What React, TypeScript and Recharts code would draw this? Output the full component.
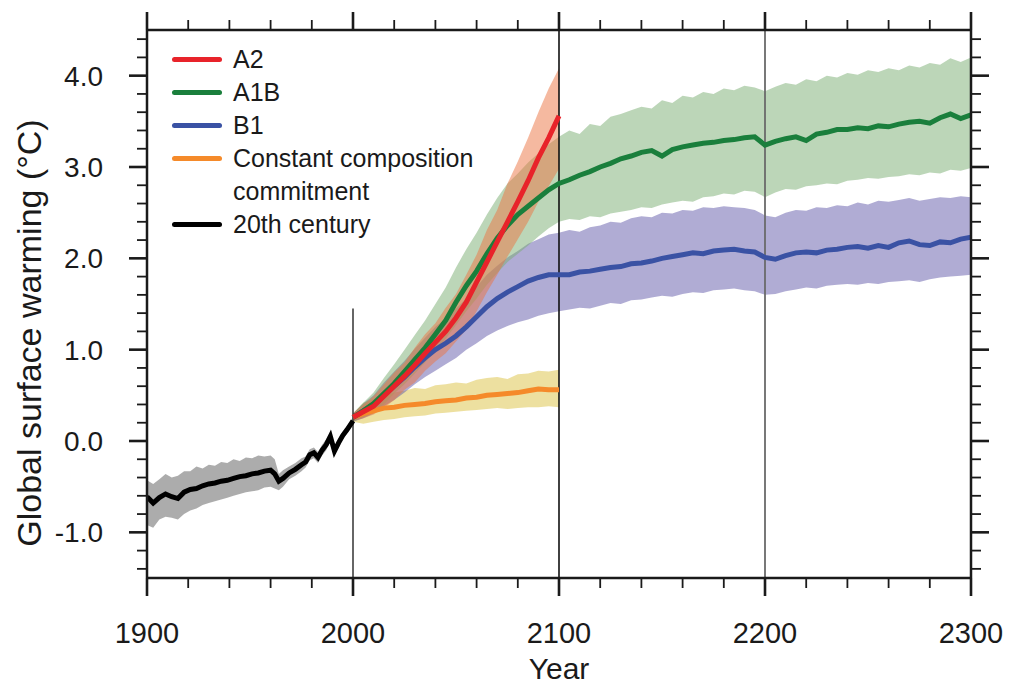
import React from 'react'
import { ComposedChart, Area, Line, XAxis, YAxis, ReferenceLine } from 'recharts'

// 20th century simulation (black line + grey band)
const histYears = [1900, 1903, 1906, 1909, 1912, 1915, 1918, 1921, 1924, 1927, 1930, 1933, 1936, 1939, 1942, 1945, 1948, 1951, 1954, 1957, 1960, 1962, 1964, 1966, 1969, 1972, 1975, 1977, 1979, 1981, 1983, 1985, 1987, 1989, 1991, 1993, 1995, 1997, 2000]
const histMean = [-0.61, -0.68, -0.62, -0.58, -0.61, -0.63, -0.56, -0.53, -0.52, -0.49, -0.47, -0.46, -0.44, -0.43, -0.41, -0.39, -0.38, -0.36, -0.35, -0.33, -0.32, -0.36, -0.44, -0.41, -0.35, -0.31, -0.26, -0.23, -0.15, -0.13, -0.18, -0.10, -0.04, 0.05, -0.11, -0.02, 0.06, 0.12, 0.22]
const histHigh = [-0.43, -0.47, -0.42, -0.36, -0.40, -0.38, -0.33, -0.33, -0.28, -0.30, -0.26, -0.27, -0.23, -0.24, -0.20, -0.22, -0.18, -0.19, -0.16, -0.17, -0.16, -0.20, -0.36, -0.32, -0.28, -0.24, -0.19, -0.17, -0.09, -0.07, -0.12, -0.04, 0.02, 0.10, -0.06, 0.03, 0.10, 0.16, 0.26]
const histLow = [-0.92, -0.95, -0.86, -0.83, -0.84, -0.86, -0.80, -0.76, -0.74, -0.70, -0.68, -0.66, -0.64, -0.62, -0.60, -0.58, -0.56, -0.55, -0.54, -0.51, -0.50, -0.52, -0.54, -0.50, -0.42, -0.38, -0.33, -0.29, -0.21, -0.19, -0.24, -0.16, -0.10, 0.00, -0.16, -0.07, 0.02, 0.08, 0.18]

// projections, every 5 years
const projYears = [2000, 2005, 2010, 2015, 2020, 2025, 2030, 2035, 2040, 2045, 2050, 2055, 2060, 2065, 2070, 2075, 2080, 2085, 2090, 2095, 2100,
  2105, 2110, 2115, 2120, 2125, 2130, 2135, 2140, 2145, 2150, 2155, 2160, 2165, 2170, 2175, 2180, 2185, 2190, 2195, 2200,
  2205, 2210, 2215, 2220, 2225, 2230, 2235, 2240, 2245, 2250, 2255, 2260, 2265, 2270, 2275, 2280, 2285, 2290, 2295, 2300]

// A2 and constant composition stop at 2100
const a2Mean = [0.26, 0.32, 0.38, 0.49, 0.60, 0.71, 0.83, 0.96, 1.08, 1.20, 1.35, 1.52, 1.74, 1.96, 2.18, 2.40, 2.62, 2.85, 3.10, 3.32, 3.56]
const a2High = [0.30, 0.40, 0.49, 0.62, 0.75, 0.86, 1.02, 1.17, 1.29, 1.46, 1.61, 1.82, 2.04, 2.31, 2.53, 2.82, 3.06, 3.32, 3.60, 3.86, 4.08]
const a2Low = [0.22, 0.25, 0.29, 0.36, 0.45, 0.56, 0.64, 0.77, 0.87, 0.96, 1.09, 1.22, 1.42, 1.63, 1.82, 2.02, 2.21, 2.40, 2.62, 2.79, 2.98]

const ccMean = [0.26, 0.30, 0.33, 0.36, 0.37, 0.39, 0.40, 0.41, 0.43, 0.44, 0.45, 0.47, 0.48, 0.50, 0.51, 0.52, 0.53, 0.55, 0.57, 0.56, 0.56]
const ccHigh = [0.30, 0.42, 0.46, 0.50, 0.53, 0.55, 0.58, 0.57, 0.61, 0.62, 0.64, 0.63, 0.67, 0.69, 0.70, 0.68, 0.73, 0.74, 0.77, 0.76, 0.78]
const ccLow = [0.21, 0.19, 0.21, 0.23, 0.24, 0.26, 0.27, 0.28, 0.30, 0.31, 0.32, 0.33, 0.34, 0.35, 0.36, 0.35, 0.36, 0.37, 0.37, 0.38, 0.37]

const a1bMean = [0.26, 0.33, 0.41, 0.52, 0.63, 0.76, 0.89, 1.02, 1.17, 1.32, 1.52, 1.70, 1.86, 2.05, 2.22, 2.36, 2.48, 2.57, 2.66, 2.75, 2.82,
  2.86, 2.91, 2.95, 3.00, 3.04, 3.09, 3.12, 3.16, 3.18, 3.12, 3.19, 3.22, 3.24, 3.26, 3.27, 3.29, 3.30, 3.32, 3.33, 3.24,
  3.28, 3.31, 3.33, 3.29, 3.36, 3.38, 3.41, 3.41, 3.43, 3.42, 3.45, 3.44, 3.47, 3.49, 3.50, 3.48, 3.54, 3.58, 3.53, 3.57]
const a1bHigh = [0.30, 0.42, 0.53, 0.69, 0.84, 1.00, 1.16, 1.32, 1.50, 1.68, 1.90, 2.10, 2.28, 2.48, 2.66, 2.82, 2.93, 3.05, 3.15, 3.25, 3.33,
  3.40, 3.36, 3.47, 3.45, 3.55, 3.58, 3.62, 3.66, 3.64, 3.73, 3.70, 3.78, 3.76, 3.82, 3.80, 3.86, 3.84, 3.89, 3.87, 3.83,
  3.88, 3.92, 3.90, 3.96, 3.94, 4.00, 3.98, 4.03, 4.01, 4.06, 4.04, 4.08, 4.06, 4.11, 4.09, 4.14, 4.12, 4.19, 4.15, 4.20]
const a1bLow = [0.21, 0.26, 0.31, 0.40, 0.52, 0.62, 0.74, 0.86, 0.98, 1.12, 1.27, 1.42, 1.56, 1.71, 1.84, 1.96, 2.05, 2.14, 2.24, 2.33, 2.40,
  2.43, 2.42, 2.46, 2.45, 2.49, 2.51, 2.53, 2.56, 2.55, 2.59, 2.61, 2.63, 2.62, 2.67, 2.68, 2.71, 2.70, 2.74, 2.73, 2.67,
  2.72, 2.76, 2.75, 2.79, 2.80, 2.82, 2.81, 2.85, 2.86, 2.88, 2.87, 2.89, 2.90, 2.92, 2.91, 2.94, 2.93, 2.97, 2.96, 2.99]

const b1Mean = [0.26, 0.33, 0.40, 0.50, 0.60, 0.70, 0.81, 0.91, 1.00, 1.07, 1.15, 1.25, 1.36, 1.47, 1.56, 1.63, 1.69, 1.75, 1.79, 1.82, 1.82,
  1.82, 1.85, 1.86, 1.88, 1.90, 1.91, 1.94, 1.95, 1.97, 2.00, 2.02, 2.04, 2.06, 2.05, 2.08, 2.09, 2.10, 2.08, 2.07, 2.01,
  1.99, 2.03, 2.06, 2.07, 2.06, 2.09, 2.10, 2.12, 2.13, 2.11, 2.14, 2.12, 2.17, 2.19, 2.15, 2.14, 2.18, 2.17, 2.21, 2.23]
const b1High = [0.30, 0.41, 0.50, 0.64, 0.76, 0.88, 1.01, 1.13, 1.25, 1.34, 1.45, 1.56, 1.69, 1.82, 1.92, 2.01, 2.08, 2.16, 2.21, 2.26, 2.28,
  2.31, 2.29, 2.34, 2.36, 2.40, 2.39, 2.44, 2.46, 2.45, 2.50, 2.49, 2.53, 2.52, 2.56, 2.55, 2.57, 2.56, 2.55, 2.53, 2.47,
  2.45, 2.50, 2.53, 2.52, 2.56, 2.55, 2.58, 2.57, 2.61, 2.59, 2.63, 2.62, 2.64, 2.66, 2.63, 2.65, 2.67, 2.66, 2.68, 2.67]
const b1Low = [0.21, 0.25, 0.30, 0.38, 0.45, 0.53, 0.62, 0.70, 0.77, 0.84, 0.91, 1.00, 1.07, 1.15, 1.21, 1.26, 1.30, 1.33, 1.37, 1.40, 1.42,
  1.44, 1.46, 1.45, 1.48, 1.51, 1.50, 1.54, 1.55, 1.57, 1.59, 1.58, 1.61, 1.63, 1.62, 1.65, 1.66, 1.67, 1.65, 1.64, 1.60,
  1.61, 1.64, 1.66, 1.68, 1.67, 1.70, 1.71, 1.72, 1.71, 1.73, 1.72, 1.74, 1.75, 1.76, 1.74, 1.77, 1.79, 1.80, 1.81, 1.82]

// axis ticks
const xTicks = [1900, 1920, 1940, 1960, 1980, 2000, 2020, 2040, 2060, 2080, 2100, 2120, 2140, 2160, 2180, 2200, 2220, 2240, 2260, 2280, 2300]
const yTicks = [-1.4, -1.2, -1.0, -0.8, -0.6, -0.4, -0.2, 0, 0.2, 0.4, 0.6, 0.8, 1.0, 1.2, 1.4, 1.6, 1.8, 2.0, 2.2, 2.4, 2.6, 2.8, 3.0, 3.2, 3.4, 3.6, 3.8, 4.0, 4.2, 4.4]

const legendLabels = ['A2', 'A1B', 'B1', 'Constant composition\ncommitment', '20th century']
const legendColors = ['#e8232a', '#1a7f3c', '#3a52a4', '#f58a2a', '#000000']

const FONT = '"Liberation Sans", Arial, Helvetica, sans-serif'
const INK = '#1a1a1a'

function buildRows() {
  const byYear = new Map<number, any>()
  const row = (yr: number) => {
    if (!byYear.has(yr)) byYear.set(yr, { year: yr })
    return byYear.get(yr)
  }
  histYears.forEach((yr, i) => {
    Object.assign(row(yr), { hist: histMean[i], histLo: histLow[i], histHi: histHigh[i] })
  })
  projYears.forEach((yr, i) => {
    const r = row(yr)
    Object.assign(r, {
      a1b: a1bMean[i], a1bLo: a1bLow[i], a1bHi: a1bHigh[i],
      b1: b1Mean[i], b1Lo: b1Low[i], b1Hi: b1High[i],
    })
    if (i < a2Mean.length) {
      Object.assign(r, {
        a2: a2Mean[i], a2Lo: a2Low[i], a2Hi: a2High[i],
        cc: ccMean[i], ccLo: ccLow[i], ccHi: ccHigh[i],
      })
    }
  })
  return [...byYear.values()].sort((a, b) => a.year - b.year)
}

const rows = buildRows()

const band = (key: string) => (d: any) => (d[key + 'Lo'] == null ? null : [d[key + 'Lo'], d[key + 'Hi']])

const isMajorX = (v: number) => v % 100 === 0
const isMajorY = (v: number) => Math.abs(v - Math.round(v)) < 1e-6

function BottomTick({ x, y, payload }: any) {
  const major = isMajorX(payload.value)
  return (
    <g>
      <line x1={x} y1={y} x2={x} y2={y + (major ? 18 : 10)} stroke={INK} strokeWidth={major ? 2.6 : 1.8} />
      {major && (
        <text x={x} y={y + 65} textAnchor="middle" fontSize={29} fill={INK} fontFamily={FONT}>
          {payload.value}
        </text>
      )}
    </g>
  )
}

function TopTick({ x, y, payload }: any) {
  const major = isMajorX(payload.value)
  return <line x1={x} y1={y} x2={x} y2={y - (major ? 18 : 10)} stroke={INK} strokeWidth={major ? 2.6 : 1.8} />
}

function LeftTick({ x, y, payload }: any) {
  const major = isMajorY(payload.value)
  return (
    <g>
      <line x1={x} y1={y} x2={x - (major ? 18 : 10)} y2={y} stroke={INK} strokeWidth={major ? 2.6 : 1.8} />
      {major && (
        <text x={x - 44} y={y + 10} textAnchor="end" fontSize={28} fill={INK} fontFamily={FONT}>
          {payload.value.toFixed(1)}
        </text>
      )}
    </g>
  )
}

function RightTick({ x, y, payload }: any) {
  const major = isMajorY(payload.value)
  return <line x1={x} y1={y} x2={x + (major ? 18 : 10)} y2={y} stroke={INK} strokeWidth={major ? 2.6 : 1.8} />
}

export default function App() {
  const axisLine = { stroke: INK, strokeWidth: 2.5 }
  return (
    <div style={{ position: 'absolute', left: 0, top: 0, width: 1010, height: 685, background: '#fff' }}>
      <ComposedChart width={1010} height={685} data={rows} margin={{ top: 29, right: 38, bottom: 106, left: 146 }}>
        <XAxis
          dataKey="year" type="number" domain={[1900, 2300]} allowDataOverflow
          ticks={xTicks} interval={0} height={1} tickSize={0} tickMargin={0} tickLine={false}
          axisLine={axisLine} tick={<BottomTick />}
          label={{ value: 'Year', position: 'bottom', offset: 79, fontSize: 30, fill: INK, fontFamily: FONT }}
        />
        <XAxis
          xAxisId="top" orientation="top" dataKey="year" type="number" domain={[1900, 2300]} allowDataOverflow
          ticks={xTicks} interval={0} height={1} tickSize={0} tickMargin={0} tickLine={false}
          axisLine={axisLine} tick={<TopTick />}
        />
        <YAxis
          type="number" domain={[-1.5, 4.5]} allowDataOverflow ticks={yTicks} interval={0}
          width={1} tickSize={0} tickMargin={0} tickLine={false} axisLine={axisLine} tick={<LeftTick />}
        />
        <YAxis
          yAxisId="right" orientation="right" type="number" domain={[-1.5, 4.5]} allowDataOverflow
          ticks={yTicks} interval={0} width={1} tickSize={0} tickMargin={0} tickLine={false}
          axisLine={axisLine} tick={<RightTick />}
        />

        <Area type="linear" dataKey={band('hist')} stroke="none" fill="#5a5a5a" fillOpacity={0.5} isAnimationActive={false} activeDot={false} />
        <Area type="linear" dataKey={band('cc')} stroke="none" fill="#dbc141" fillOpacity={0.5} isAnimationActive={false} activeDot={false} />
        <Area type="linear" dataKey={band('b1')} stroke="none" fill="#6159a9" fillOpacity={0.5} isAnimationActive={false} activeDot={false} />
        <Area type="linear" dataKey={band('a1b')} stroke="none" fill="#79ad71" fillOpacity={0.5} isAnimationActive={false} activeDot={false} />
        <Area type="linear" dataKey={band('a2')} stroke="none" fill="#eb7341" fillOpacity={0.5} isAnimationActive={false} activeDot={false} />

        <ReferenceLine segment={[{ x: 2000, y: 1.45 }, { x: 2000, y: -1.5 }]} stroke="#333" strokeWidth={1.5} />
        <ReferenceLine x={2100} stroke="#111" strokeWidth={1.6} />
        <ReferenceLine x={2200} stroke="#6a6a6a" strokeWidth={1.8} />

        <Line type="linear" dataKey="hist" stroke="#000" strokeWidth={5} dot={false} activeDot={false} isAnimationActive={false} />
        <Line type="linear" dataKey="cc" stroke={legendColors[3]} strokeWidth={5} dot={false} activeDot={false} isAnimationActive={false} />
        <Line type="linear" dataKey="b1" stroke={legendColors[2]} strokeWidth={5} dot={false} activeDot={false} isAnimationActive={false} />
        <Line type="linear" dataKey="a1b" stroke={legendColors[1]} strokeWidth={5} dot={false} activeDot={false} isAnimationActive={false} />
        <Line type="linear" dataKey="a2" stroke={legendColors[0]} strokeWidth={5} dot={false} activeDot={false} isAnimationActive={false} />
      </ComposedChart>

      <div
        style={{
          position: 'absolute', left: 29, top: 333, transform: 'translate(-50%, -50%) rotate(-90deg)',
          whiteSpace: 'nowrap', fontSize: 34, fontFamily: FONT, color: INK,
        }}
      >
        Global surface warming (°C)
      </div>

      <div style={{ position: 'absolute', left: 172, top: 43, fontFamily: FONT, fontSize: 25, color: INK, lineHeight: '33px' }}>
        {legendLabels.map((label, i) => (
          <div key={label} style={{ display: 'flex', alignItems: 'flex-start' }}>
            <span style={{ flex: 'none', width: 50, height: 5, marginTop: 14, marginRight: 11, borderRadius: 3, background: legendColors[i] }} />
            <span style={{ whiteSpace: 'pre-line' }}>{label}</span>
          </div>
        ))}
      </div>
    </div>
  )
}
